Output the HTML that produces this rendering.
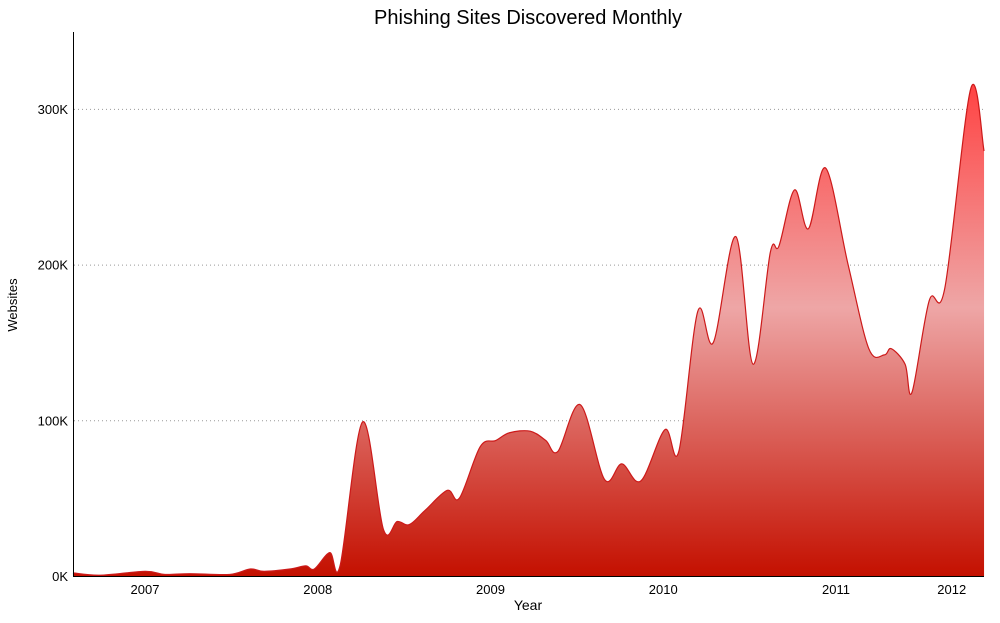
<!DOCTYPE html>
<html><head><meta charset="utf-8"><style>
html,body{margin:0;padding:0;background:#fff;}
svg text{font-family:"Liberation Sans",sans-serif;}
</style></head><body>
<svg id="chart" width="1000" height="618" viewBox="0 0 1000 618" xmlns="http://www.w3.org/2000/svg">
<defs>
<linearGradient id="g" gradientUnits="userSpaceOnUse" x1="0" y1="88" x2="0" y2="576">
<stop offset="0" stop-color="#ff4545"/>
<stop offset="0.45" stop-color="#eea6a6"/>
<stop offset="1" stop-color="#c41000"/>
</linearGradient>
</defs>
<text x="528" y="24" font-size="20" text-anchor="middle" fill="#000">Phishing Sites Discovered Monthly</text>
<g id="grid"></g>
<path id="area" fill="url(#g)" stroke="none"/>
<path id="line" fill="none" stroke="#cc1a1a" stroke-width="1.2"/>
<line x1="73.5" y1="32" x2="73.5" y2="577" stroke="#000" stroke-width="1"/>
<line x1="73" y1="576.5" x2="984" y2="576.5" stroke="#000" stroke-width="1"/>
<g id="yticks"></g>
<g id="xticks"></g>
<text x="528" y="610" font-size="14" text-anchor="middle">Year</text>
<text x="17" y="305" font-size="13" text-anchor="middle" transform="rotate(-90 17 305)">Websites</text>
</svg>
<script>
const dates=[2006.583,2006.74,2007,2007.116,2007.26,2007.49,2007.61,2007.69,2007.84,2007.93,2007.98,2008.07,2008.13,2008.26,2008.38,2008.46,2008.53,2008.62,2008.75,2008.82,2008.94,2009.03,2009.11,2009.23,2009.32,2009.39,2009.52,2009.66,2009.76,2009.87,2010.01,2010.09,2010.2,2010.29,2010.42,2010.52,2010.62,2010.67,2010.76,2010.84,2010.94,2011.07,2011.19,2011.28,2011.32,2011.4,2011.44,2011.54,2011.63,2011.78,2011.857];
const values=[2,0.5,3,1,1.5,1,4.5,3,4.5,6.5,4.5,15,7,99,30,35,33,42,55,50,83,87,92,93,87,80,110,62,72,61,94,80,170,150,218,136,208,212,248,223,262,200,146,142,146,136,118,177,185,313,273];
const yTicks=[0,100,200,300];
const yTickLabels=["0K","100K","200K","300K"];
const xTicks=[2007,2008,2009,2010,2011,2011.67];
const xTickLabels=["2007","2008","2009","2010","2011","2012"];
const NS="http://www.w3.org/2000/svg";
function xS(t){return 145+(t-2007)*172.75;}
function yS(v){return 576-v*1.557;}
const pts=dates.map((d,i)=>[xS(d),yS(values[i])]);
let p="M"+pts[0][0]+","+pts[0][1];
for(let i=0;i<pts.length-1;i++){
 const p0=pts[Math.max(0,i-1)],p1=pts[i],p2=pts[i+1],p3=pts[Math.min(pts.length-1,i+2)];
 const k=1/6;
 const c1=[p1[0]+(p2[0]-p0[0])*k,p1[1]+(p2[1]-p0[1])*k];
 const c2=[p2[0]-(p3[0]-p1[0])*k,p2[1]-(p3[1]-p1[1])*k];
 p+=" C"+c1[0]+","+c1[1]+" "+c2[0]+","+c2[1]+" "+p2[0]+","+p2[1];
}
document.getElementById('line').setAttribute('d',p);
const last=pts[pts.length-1];
document.getElementById('area').setAttribute('d',p+" L"+last[0]+",576 L"+pts[0][0]+",576 Z");
const grid=document.getElementById('grid'),yt=document.getElementById('yticks'),xt=document.getElementById('xticks');
yTicks.forEach((v,i)=>{
 const y=yS(v);
 if(v>0){
  const l=document.createElementNS(NS,'line');
  
  
  l.setAttribute('x1',74);l.setAttribute('x2',984);l.setAttribute('y1',y+0.5);l.setAttribute('y2',y+0.5);
  l.setAttribute('stroke','#999');l.setAttribute('stroke-dasharray','1,3');
  grid.appendChild(l);
 }
 const t=document.createElementNS(NS,'text');
 
 
 t.setAttribute('x',68);t.setAttribute('y',y+5);t.setAttribute('text-anchor','end');t.setAttribute('font-size','13');
 t.textContent=yTickLabels[i];yt.appendChild(t);
});
xTicks.forEach((d,i)=>{
 const t=document.createElementNS(NS,'text');
 
 
 t.setAttribute('x',xS(d));t.setAttribute('y',594);t.setAttribute('text-anchor','middle');t.setAttribute('font-size','13');
 t.textContent=xTickLabels[i];xt.appendChild(t);
});
</script>
</body></html>
